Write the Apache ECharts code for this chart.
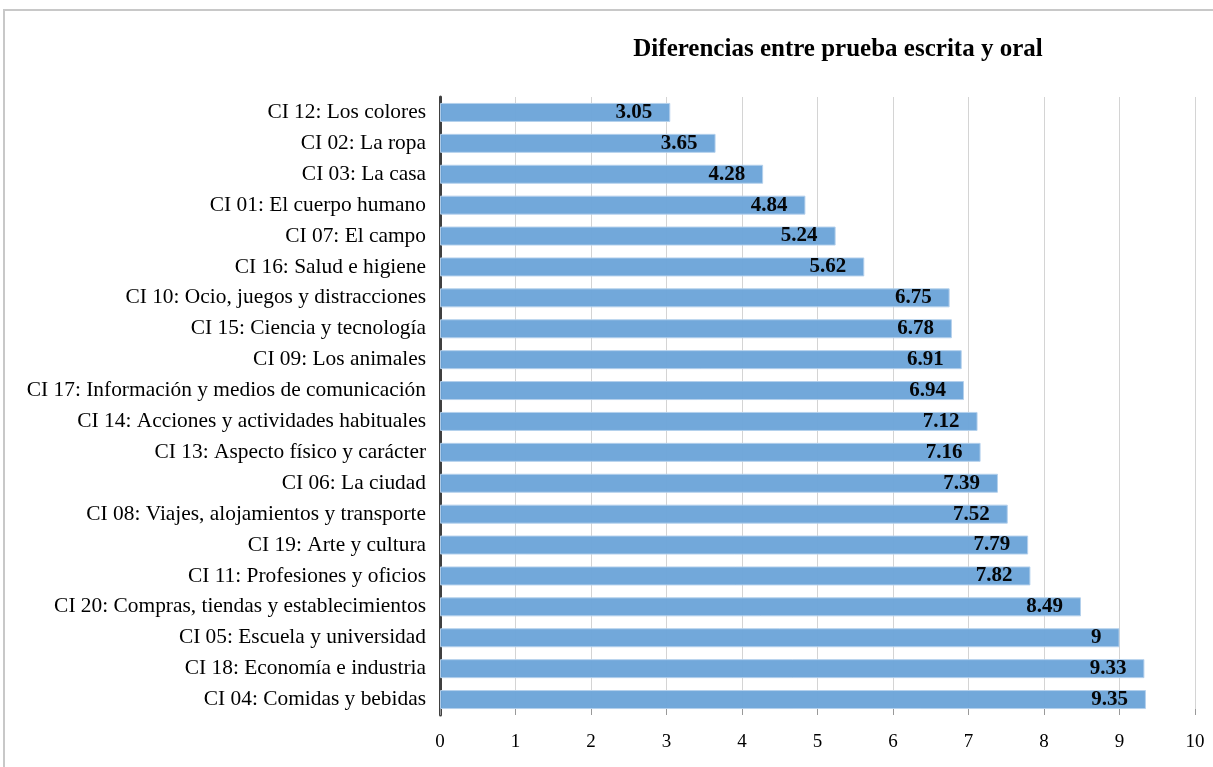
<!DOCTYPE html>
<html>
<head>
<meta charset="utf-8">
<script src="https://cdn.jsdelivr.net/npm/echarts@6/dist/echarts.min.js"></script>
<style>
html, body { margin: 0; padding: 0; background: #fff; }
#main { width: 1213px; height: 767px; }
</style>
</head>
<body>
<div id="main"></div>
<script>
var categories = [
	'CI 12: Los colores',
	'CI 02: La ropa',
	'CI 03: La casa',
	'CI 01: El cuerpo humano',
	'CI 07: El campo',
	'CI 16: Salud e higiene',
	'CI 10: Ocio, juegos y distracciones',
	'CI 15: Ciencia y tecnología',
	'CI 09: Los animales',
	'CI 17: Información y medios de comunicación',
	'CI 14: Acciones y actividades habituales',
	'CI 13: Aspecto físico y carácter',
	'CI 06: La ciudad',
	'CI 08: Viajes, alojamientos y transporte',
	'CI 19: Arte y cultura',
	'CI 11: Profesiones y oficios',
	'CI 20: Compras, tiendas y establecimientos',
	'CI 05: Escuela y universidad',
	'CI 18: Economía e industria',
	'CI 04: Comidas y bebidas'
];
var diferencias = [3.05, 3.65, 4.28, 4.84, 5.24, 5.62, 6.75, 6.78, 6.91, 6.94,
	7.12, 7.16, 7.39, 7.52, 7.79, 7.82, 8.49, 9, 9.33, 9.35];

var myChart = echarts.init(document.getElementById('main'));
var serif = '"Liberation Serif", "DejaVu Serif", serif';

var option = {
	animation: false,
	textStyle: { fontFamily: serif },
	title: {
		text: 'Diferencias entre prueba escrita y oral',
		left: 833,
		textAlign: 'center',
		top: 32,
		textStyle: { fontFamily: serif, fontSize: 25, fontWeight: 'bold', color: '#000' }
	},
	graphic: [{
		type: 'polyline',
		shape: { points: [[4, 767], [4, 10], [1213, 10]] },
		style: { stroke: '#c8c8c8', lineWidth: 2, fill: null }
	}],
	grid: { left: 440, right: 18, top: 97, bottom: 52 },
	xAxis: {
		type: 'value',
		min: 0,
		max: 10,
		interval: 1,
		axisLine: { show: false },
		axisTick: { show: true, inside: true, length: 6, lineStyle: { color: '#999' } },
		axisLabel: { color: '#000', fontSize: 19, fontFamily: serif, margin: 18 },
		splitLine: { lineStyle: { color: '#d4d4d4', width: 1 } }
	},
	yAxis: {
		type: 'category',
		inverse: true,
		data: categories,
		axisLine: { show: true, lineStyle: { color: '#404040', width: 3 } },
		axisTick: { show: false },
		axisLabel: { color: '#000', fontSize: 21.4, fontFamily: serif, margin: 14 }
	},
	series: [{
		name: 'Diferencias',
		type: 'bar',
		data: diferencias,
		barWidth: 19,
		itemStyle: { color: '#6ca4d9', opacity: 0.96, borderColor: '#b4d0ec', borderWidth: 1 },
		label: {
			show: true,
			position: 'insideRight',
			distance: 18,
			color: '#000',
			fontSize: 21,
			fontWeight: 'bold',
			fontFamily: serif
		}
	}]
};

myChart.setOption(option);
</script>
</body>
</html>
